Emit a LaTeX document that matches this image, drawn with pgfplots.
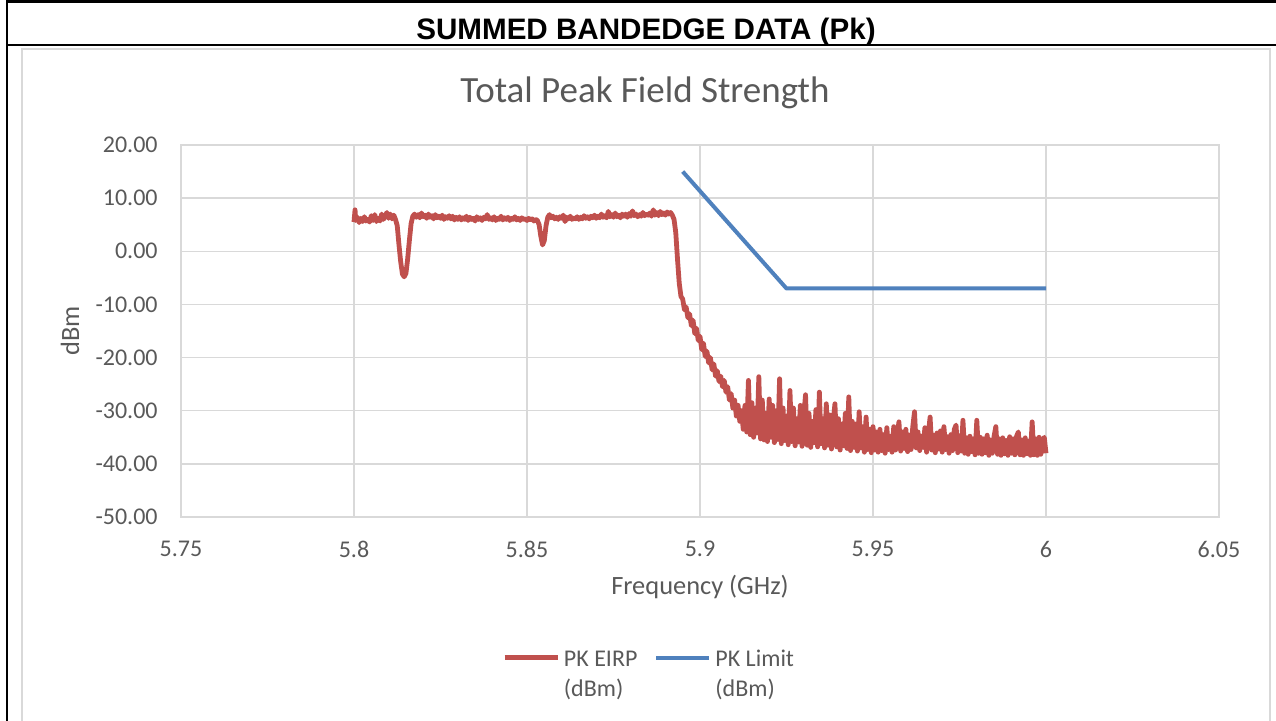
\documentclass[border=0pt]{standalone}
\usepackage{fontspec}
\setmainfont{Carlito}
\newfontfamily\headfont{Liberation Sans}
\usepackage{pgfplots}
\usepackage{pgfplotstable}
\pgfplotsset{compat=1.18}
\definecolor{eirp}{HTML}{C0504D}
\definecolor{lim}{HTML}{4F81BD}
\definecolor{gridc}{HTML}{D9D9D9}
\definecolor{txt}{HTML}{595959}

\pgfplotstableread{
x y
5.8000 5.5
5.8003 7.8
5.8005 5.8
5.8010 6.4
5.8015 5.4
5.8020 6.2
5.8025 5.6
5.8030 6.5
5.8035 5.7
5.8040 6.0
5.8045 5.5
5.8050 6.7
5.8055 5.8
5.8060 6.9
5.8065 5.6
5.8070 6.2
5.8075 5.7
5.8080 7.0
5.8085 6.0
5.8090 6.6
5.8095 7.3
5.8100 6.2
5.8105 7.0
5.8110 6.1
5.8115 6.8
5.8120 6.0
5.8125 4.8
5.8130 1.2
5.8135 -2.0
5.8140 -4.3
5.8145 -4.8
5.8150 -4.2
5.8155 -1.5
5.8160 2.0
5.8165 5.2
5.8170 6.6
5.8175 7.0
5.8180 6.4
5.8185 6.9
5.8190 6.3
5.8195 7.2
5.8200 6.5
5.8205 6.8
5.8210 6.2
5.8215 7.0
5.8220 6.4
5.8225 6.7
5.8230 6.1
5.8235 6.9
5.8240 6.3
5.8245 6.6
5.8250 6.2
5.8255 6.8
5.8260 6.0
5.8265 6.5
5.8270 6.2
5.8275 6.7
5.8280 6.1
5.8285 6.6
5.8290 5.9
5.8295 6.4
5.8300 6.0
5.8305 6.5
5.8310 5.9
5.8315 6.3
5.8320 6.0
5.8325 6.6
5.8330 5.8
5.8335 6.4
5.8340 6.0
5.8345 6.2
5.8350 5.7
5.8355 6.5
5.8360 6.0
5.8365 6.3
5.8370 5.8
5.8375 6.4
5.8380 6.1
5.8385 6.9
5.8390 6.0
5.8395 6.3
5.8400 5.9
5.8405 6.5
5.8410 5.8
5.8415 6.2
5.8420 6.0
5.8425 6.6
5.8430 5.9
5.8435 6.3
5.8440 6.0
5.8445 6.4
5.8450 5.8
5.8455 6.2
5.8460 6.0
5.8465 6.5
5.8470 5.9
5.8475 6.2
5.8480 5.8
5.8485 6.3
5.8490 6.0
5.8495 6.1
5.8500 5.8
5.8505 6.2
5.8510 5.9
5.8515 6.1
5.8520 5.7
5.8525 6.0
5.8530 5.8
5.8535 5.0
5.8540 2.8
5.8545 1.2
5.8550 2.0
5.8555 4.8
5.8560 6.4
5.8565 6.9
5.8570 6.3
5.8575 6.6
5.8580 6.1
5.8585 6.4
5.8590 6.0
5.8595 6.5
5.8600 6.2
5.8605 6.8
5.8610 5.6
5.8615 6.4
5.8620 6.1
5.8625 6.6
5.8630 6.0
5.8635 6.3
5.8640 6.1
5.8645 6.5
5.8650 6.0
5.8655 6.4
5.8660 6.1
5.8665 6.7
5.8670 6.2
5.8675 6.5
5.8680 6.1
5.8685 6.6
5.8690 6.3
5.8695 6.8
5.8700 6.2
5.8705 6.6
5.8710 6.3
5.8715 7.0
5.8720 6.4
5.8725 6.7
5.8730 6.3
5.8735 7.5
5.8740 6.5
5.8745 6.9
5.8750 6.4
5.8755 7.2
5.8760 6.5
5.8765 6.8
5.8770 6.3
5.8775 7.0
5.8780 6.6
5.8785 7.0
5.8790 6.4
5.8795 7.1
5.8800 6.6
5.8805 7.6
5.8810 6.7
5.8815 7.0
5.8820 6.5
5.8825 6.9
5.8830 6.6
5.8835 7.3
5.8840 6.7
5.8845 7.0
5.8850 6.8
5.8855 7.2
5.8860 6.6
5.8865 7.8
5.8870 6.8
5.8875 7.3
5.8880 6.7
5.8885 7.5
5.8890 6.9
5.8895 7.2
5.8900 6.8
5.8905 7.4
5.8910 7.0
5.8915 7.3
5.8920 6.8
5.8925 6.0
5.8930 3.5
5.8935 -1.5
5.8940 -6.0
5.8945 -8.5
5.8950 -9.0
5.8955 -11.0
5.8960 -10.5
5.8965 -12.5
5.8970 -11.8
5.8975 -14.0
5.8980 -13.0
5.8985 -15.5
5.8990 -14.5
5.8995 -16.8
5.9000 -16.0
5.9005 -18.5
5.9010 -17.3
5.9015 -19.8
5.9020 -18.8
5.9025 -21.0
5.9030 -20.0
5.9035 -22.3
5.9040 -21.2
5.9045 -23.5
5.9050 -22.5
5.9055 -24.5
5.9060 -23.5
5.9065 -25.5
5.9070 -24.3
5.9075 -26.5
5.9080 -25.5
5.9085 -28.0
5.9090 -26.8
5.9095 -29.5
5.9100 -28.0
5.9105 -31.0
5.9110 -29.0
5.9115 -32.0
5.9120 -30.0
5.9125 -33.5
5.9130 -29.0
5.9135 -34.0
5.9140 -24.3
5.9145 -34.5
5.9150 -28.5
5.9155 -35.0
5.9160 -29.5
5.9165 -34.2
5.9170 -23.6
5.9175 -35.3
5.9180 -28.0
5.9185 -35.5
5.9190 -30.5
5.9195 -35.8
5.9200 -27.8
5.9205 -35.0
5.9210 -29.0
5.9215 -36.0
5.9220 -30.0
5.9225 -35.4
5.9230 -24.0
5.9235 -36.2
5.9240 -29.5
5.9245 -35.6
5.9250 -31.0
5.9255 -36.4
5.9260 -26.2
5.9265 -35.8
5.9270 -29.5
5.9275 -36.6
5.9280 -31.5
5.9285 -35.9
5.9290 -29.0
5.9295 -36.7
5.9300 -31.0
5.9305 -27.0
5.9310 -36.5
5.9315 -30.5
5.9320 -36.9
5.9325 -32.0
5.9330 -36.0
5.9335 -29.8
5.9340 -36.8
5.9345 -26.5
5.9350 -36.2
5.9355 -31.5
5.9360 -37.0
5.9365 -28.7
5.9370 -36.5
5.9375 -30.8
5.9380 -37.2
5.9385 -32.0
5.9390 -28.7
5.9395 -36.8
5.9400 -31.5
5.9405 -37.4
5.9410 -32.5
5.9415 -36.6
5.9420 -30.5
5.9425 -37.1
5.9430 -27.4
5.9435 -37.5
5.9440 -32.0
5.9445 -36.9
5.9450 -32.5
5.9455 -37.6
5.9460 -30.2
5.9465 -37.0
5.9470 -33.0
5.9475 -37.8
5.9480 -31.2
5.9485 -37.3
5.9490 -33.5
5.9495 -37.9
5.9500 -33.0
5.9505 -37.4
5.9510 -34.0
5.9515 -37.8
5.9520 -33.5
5.9525 -37.5
5.9530 -34.5
5.9535 -38.0
5.9540 -33.2
5.9545 -37.3
5.9550 -34.8
5.9555 -37.8
5.9560 -33.0
5.9565 -37.4
5.9570 -34.5
5.9575 -32.1
5.9580 -37.6
5.9585 -34.0
5.9590 -37.1
5.9595 -33.5
5.9600 -37.7
5.9605 -34.6
5.9610 -37.3
5.9615 -33.0
5.9620 -30.2
5.9625 -37.0
5.9630 -34.0
5.9635 -37.5
5.9640 -34.8
5.9645 -36.9
5.9650 -33.2
5.9655 -37.8
5.9660 -34.3
5.9665 -31.2
5.9670 -37.4
5.9675 -34.6
5.9680 -37.9
5.9685 -34.2
5.9690 -37.2
5.9695 -33.8
5.9700 -37.8
5.9705 -33.0
5.9710 -37.3
5.9715 -34.9
5.9720 -38.0
5.9725 -34.5
5.9730 -37.5
5.9735 -33.5
5.9740 -32.7
5.9745 -37.9
5.9750 -34.7
5.9755 -37.6
5.9760 -31.8
5.9765 -38.0
5.9770 -35.1
5.9775 -38.2
5.9780 -34.8
5.9785 -37.7
5.9790 -35.3
5.9795 -38.3
5.9800 -31.8
5.9805 -38.0
5.9810 -35.0
5.9815 -38.2
5.9820 -35.3
5.9825 -37.9
5.9830 -34.6
5.9835 -38.4
5.9840 -35.5
5.9845 -38.0
5.9850 -34.8
5.9855 -33.0
5.9860 -38.2
5.9865 -35.3
5.9870 -38.4
5.9875 -35.1
5.9880 -38.1
5.9885 -35.6
5.9890 -38.4
5.9895 -34.9
5.9900 -38.0
5.9905 -35.3
5.9910 -38.3
5.9915 -34.8
5.9920 -34.0
5.9925 -38.3
5.9930 -35.5
5.9935 -38.4
5.9940 -35.1
5.9945 -38.1
5.9950 -35.7
5.9955 -38.4
5.9960 -32.1
5.9965 -38.3
5.9970 -35.3
5.9975 -38.4
5.9980 -35.0
5.9985 -38.2
5.9990 -35.6
5.9995 -35.0
6.0000 -38.0
}\eirpdata

\pgfplotstableread{
x y
5.895 15
5.925 -7
6.000 -7
}\limitdata

\begin{document}
\begin{tikzpicture}
\path[use as bounding box] (0pt,0pt) rectangle (638pt,360.5pt);
\begin{scope}[x=0.5pt,y=0.5pt]
\draw[black, line width=1.5pt] (7,719.5) -- (1276,719.5);
\draw[black, line width=1.25pt] (7,721) -- (7,0);
\draw[black, line width=1.25pt] (7,676) -- (1276,676);
\node[anchor=base, inner sep=0pt, font=\headfont\bfseries\fontsize{14.8}{17}\selectfont] at (646,681) {SUMMED BANDEDGE DATA (Pk)};
\draw[gridc, line width=0.75pt] (22,0) -- (22,672) -- (1270,672) -- (1270,0);
\end{scope}
\begin{axis}[
  at={(90.5pt,102pt)}, anchor=south west,
  width=519pt, height=186pt, scale only axis,
  xmin=5.75, xmax=6.05, ymin=-50, ymax=20,
  xtick={5.75,5.8,5.85,5.9,5.95,6,6.05},
  xticklabels={5.75,5.8,5.85,5.9,5.95,6,6.05},
  ytick={-50,-40,-30,-20,-10,0,10,20},
  yticklabels={-50.00,-40.00,-30.00,-20.00,-10.00,0.00,10.00,20.00},
  grid=major,
  major grid style={gridc, line width=0.75pt},
  axis line style={gridc, line width=0.75pt},
  major tick length=0pt,
  tick label style={font=\fontsize{12}{14}\selectfont, text=txt},
  yticklabel style={anchor=east, inner sep=0pt, xshift=-11.5pt},
  xticklabel style={anchor=north, inner sep=0pt, yshift=-12pt},
  xlabel={Frequency (GHz)}, ylabel={dBm},
  xlabel style={at={(axis description cs:0.5,-0.188)}, anchor=center, font=\fontsize{13.2}{15}\selectfont, text=txt},
  ylabel style={at={(axis description cs:-0.1069,0.5)}, anchor=center, font=\fontsize{13.2}{15}\selectfont, text=txt},
  title={Total Peak Field Strength},
  title style={at={(axis description cs:0.447,1.107)}, anchor=center, font=\fontsize{18.5}{22}\selectfont, text=txt},
  legend columns=2,
  legend cell align=left,
  legend image code/.code={\draw[#1] (0pt,0pt) -- (26.5pt,0pt);},
  legend style={draw=none, fill=none, inner sep=0pt,
    at={(axis description cs:0.309,-0.334)}, anchor=north west,
    font=\fontsize{12}{15}\selectfont, text=txt,
    /tikz/every even column/.append style={column sep=6.5pt}},
]
\addplot[eirp, line width=2.4pt, line join=round] table[x=x, y=y] {\eirpdata};
\addlegendentry{\begin{tabular}[t]{@{}l@{}}PK EIRP\\(dBm)\end{tabular}}
\addplot[lim, line width=2pt, line join=round] table[x=x, y=y] {\limitdata};
\addlegendentry{\begin{tabular}[t]{@{}l@{}}PK Limit\\(dBm)\end{tabular}}
\end{axis}
\end{tikzpicture}
\end{document}
